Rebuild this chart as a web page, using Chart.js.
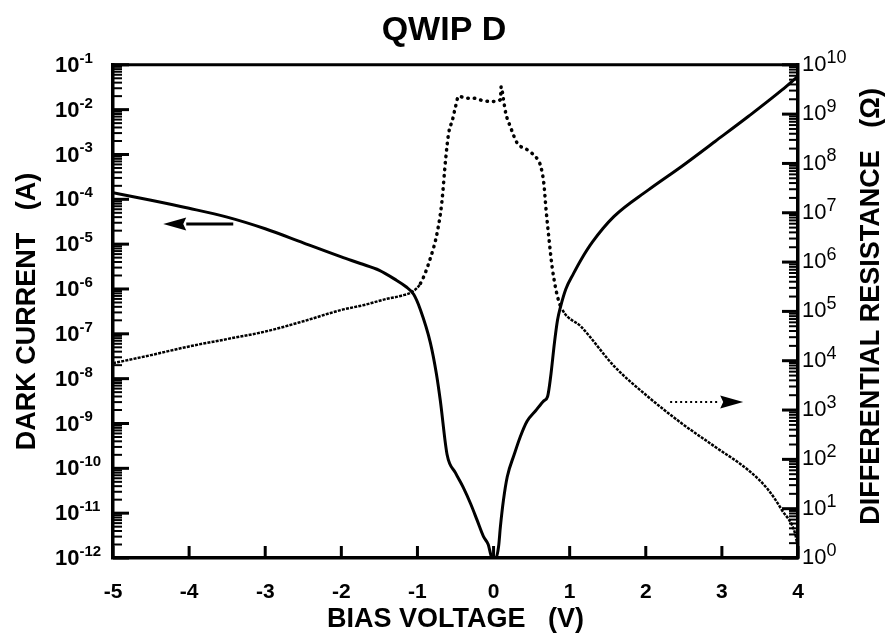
<!DOCTYPE html>
<html>
<head>
<meta charset="utf-8">
<script src="https://cdn.jsdelivr.net/npm/chart.js@4.4.1/dist/chart.umd.min.js"></script>
<style>
html, body { margin: 0; padding: 0; background: #fff; }
#wrap { width: 888px; height: 643px; }
</style>
</head>
<body>
<div id="wrap"><canvas id="myChart" width="888" height="643"></canvas></div>
<script>
// dark current (A) vs bias (V), solid curve, left axis
var biasV = [-5, -4.5, -4, -3.5, -3, -2.5, -2, -1.75, -1.5, -1.3,
    -1.15, -1.05, -0.96, -0.83, -0.75, -0.7, -0.61, -0.5, -0.4, -0.3,
    -0.215, -0.13, -0.07, -0.03, 0, 0.03, 0.066, 0.09, 0.13, 0.18,
    0.27, 0.35, 0.44, 0.55, 0.66, 0.71, 0.75, 0.8, 0.84, 0.88,
    0.95, 1.05, 1.15, 1.3, 1.58, 2.03, 2.47, 2.91, 3.35, 3.79, 4.0];
var darkCurrent = [1.4e-4, 9.5e-5, 6.3e-5, 4.0e-5, 2.2e-5, 1.07e-5, 5.2e-6, 3.7e-6, 2.6e-6, 1.66e-6,
    1.12e-6, 7.6e-7, 3.4e-7, 6.3e-8, 1.26e-8, 3.3e-9, 2.0e-10, 7.9e-11, 3.8e-11, 1.6e-11,
    6.9e-12, 2.95e-12, 2.0e-12, 1.1e-12, 1e-12, 1e-12, 1.8e-12, 5.0e-12, 1.95e-11, 6.5e-11,
    2.0e-10, 5.0e-10, 1.12e-9, 1.9e-9, 3.2e-9, 4.0e-9, 1.1e-8, 6.3e-8, 2.0e-7, 4.0e-7,
    1.0e-6, 2.2e-6, 4.5e-6, 1.12e-5, 4.1e-5, 1.6e-4, 5.4e-4, 1.95e-3, 7.1e-3, 2.75e-2, 5.6e-2];

// differential resistance (ohm) vs bias (V), dotted curve, right axis
var resBias = [-5, -4.5, -4, -3.5, -3, -2.5, -2, -1.7, -1.4, -1.2,
    -1.07, -0.96, -0.83, -0.74, -0.68, -0.63, -0.59, -0.54, -0.5, -0.46,
    -0.35, -0.26, -0.15, -0.04, 0.09, 0.1, 0.13, 0.16, 0.22, 0.31,
    0.44, 0.58, 0.62, 0.66, 0.69, 0.73, 0.77, 0.84, 0.905, 1.15,
    1.59, 2.03, 2.47, 2.91, 3.35, 3.61, 3.79, 3.96, 4.0];
var diffRes = [8.9e3, 1.3e4, 1.95e4, 2.75e4, 3.9e4, 6.3e4, 1.07e5, 1.35e5, 1.8e5, 2.1e5,
    2.5e5, 3.7e5, 1.2e6, 4.0e6, 1.6e7, 1.2e8, 4.1e8, 7.6e8, 1.4e9, 2.3e9,
    2.1e9, 2.1e9, 1.9e9, 1.8e9, 1.95e9, 3.6e9, 2.0e9, 1.05e9, 5.6e8, 2.6e8,
    1.9e8, 1.2e8, 8.7e7, 4.0e7, 1.15e7, 2.8e6, 7.9e5, 2.0e5, 1.07e5, 4.9e4,
    7.6e3, 1.86e3, 5.4e2, 1.8e2, 60, 24, 9.3, 3.2, 1.6];

var xTicks = [-5, -4, -3, -2, -1, 0, 1, 2, 3, 4];
var leftExp = [-12, -11, -10, -9, -8, -7, -6, -5, -4, -3, -2, -1];
var rightExp = [0, 1, 2, 3, 4, 5, 6, 7, 8, 9, 10];

// arrows telling which curve goes with which axis
var arrowCurrent = { from: -3.42, to: -4.34, at: 2.8e-5 };
var arrowRes = { from: 2.32, to: 3.28, at: 1.45e3 };

var FONT = "'Liberation Sans', Arial, Helvetica, sans-serif";
Chart.defaults.font.family = FONT;
Chart.defaults.color = '#000';

function pts(xs, ys) {
    var out = [];
    for (let i = 0; i < xs.length; i++) out.push({ x: xs[i], y: ys[i] });
    return out;
}

function drawPow(ctx, x, y, exp, weight, size, supSize, supRise) {
    ctx.font = weight + ' ' + size + 'px ' + FONT;
    ctx.textAlign = 'left';
    ctx.textBaseline = 'middle';
    ctx.fillText('10', x, y);
    var w = ctx.measureText('10').width;
    ctx.font = weight + ' ' + supSize + 'px ' + FONT;
    ctx.textBaseline = 'alphabetic';
    ctx.fillText(String(exp), x + w, y - supRise);
}

function drawArrow(ctx, xs, ys, a, dotted) {
    var x0 = xs.getPixelForValue(a.from), x1 = xs.getPixelForValue(a.to);
    var y = ys.getPixelForValue(a.at);
    var dir = x1 > x0 ? 1 : -1;
    var head = 23;
    ctx.lineWidth = dotted ? 2 : 3;
    ctx.setLineDash(dotted ? [2, 3] : []);
    ctx.beginPath();
    ctx.moveTo(x0, y);
    ctx.lineTo(x1 - dir * head, y);
    ctx.stroke();
    ctx.setLineDash([]);
    ctx.beginPath();
    ctx.moveTo(x1, y);
    ctx.lineTo(x1 - dir * head, y - 6.5);
    ctx.lineTo(x1 - dir * (head - 3), y);
    ctx.lineTo(x1 - dir * head, y + 6.5);
    ctx.closePath();
    ctx.fill();
}

var decor = {
    id: 'decor',
    afterDraw: function (chart) {
        var ctx = chart.ctx, area = chart.chartArea;
        var xs = chart.scales.x, yl = chart.scales.y, yr = chart.scales.y2;
        ctx.save();
        ctx.strokeStyle = '#000';
        ctx.fillStyle = '#000';
        // top frame
        ctx.lineWidth = 3;
        ctx.beginPath();
        ctx.moveTo(area.left, area.top);
        ctx.lineTo(area.right, area.top);
        ctx.stroke();
        // inward ticks, left and right log axes
        [[yl, leftExp, area.left, 1], [yr, rightExp, area.right, -1]].forEach(function (s) {
            var sc = s[0], ex = s[1], x = s[2], d = s[3];
            for (let i = 0; i < ex.length; i++) {
                var p = sc.getPixelForValue(Math.pow(10, ex[i]));
                ctx.lineWidth = 3;
                ctx.beginPath(); ctx.moveTo(x, p); ctx.lineTo(x + d * 16, p); ctx.stroke();
                if (i == ex.length - 1) continue;
                ctx.lineWidth = 2;
                for (let m = 2; m < 10; m++) {
                    var q = sc.getPixelForValue(m * Math.pow(10, ex[i]));
                    ctx.beginPath(); ctx.moveTo(x, q); ctx.lineTo(x + d * 9, q); ctx.stroke();
                }
            }
        });
        // inward ticks, bottom axis
        ctx.lineWidth = 3;
        for (let i = 0; i < xTicks.length; i++) {
            var px = xs.getPixelForValue(xTicks[i]);
            ctx.beginPath(); ctx.moveTo(px, area.bottom); ctx.lineTo(px, area.bottom - 12); ctx.stroke();
        }
        // tick labels with exponents
        for (let i = 0; i < leftExp.length; i++) {
            drawPow(ctx, 55, yl.getPixelForValue(Math.pow(10, leftExp[i])) + 1, leftExp[i], 'bold', 22, 15, 3);
        }
        for (let i = 0; i < rightExp.length; i++) {
            drawPow(ctx, 802, yr.getPixelForValue(Math.pow(10, rightExp[i])), rightExp[i], 'normal', 22, 18, 2);
        }
        // right axis title, reading bottom to top
        ctx.save();
        ctx.translate(area.right + 74, (area.top + area.bottom) / 2 - 5);
        ctx.rotate(-Math.PI / 2);
        ctx.font = 'bold 27px ' + FONT;
        ctx.textAlign = 'center';
        ctx.textBaseline = 'middle';
        ctx.fillText('DIFFERENTIAL RESISTANCE   (\u03A9)', 0, 0);
        ctx.restore();
        drawArrow(ctx, xs, yl, arrowCurrent, false);
        drawArrow(ctx, xs, yr, arrowRes, true);
        ctx.restore();
    }
};

function inner(c) {
    return c.p0.parsed.x >= -1.0 && c.p0.parsed.x < 0.88;
}

var ctx = document.getElementById('myChart');
var chart = new Chart(ctx, {
    type: 'line',
    data: {
        datasets: [
            {
                label: 'Dark current',
                data: pts(biasV, darkCurrent),
                yAxisID: 'y',
                borderColor: '#000',
                borderWidth: 3,
                pointRadius: 0,
                fill: false,
                cubicInterpolationMode: 'monotone'
            },
            {
                label: 'Differential resistance',
                data: pts(resBias, diffRes),
                yAxisID: 'y2',
                borderColor: '#000',
                borderWidth: 3,
                pointRadius: 0,
                fill: false,
                cubicInterpolationMode: 'monotone',
                segment: {
                    // dots near zero bias, very dense dots on the flanks
                    borderDash: c => inner(c) ? [0.5, 6] : [3, 1.2],
                    borderWidth: c => inner(c) ? 3.5 : 2.5,
                    borderCapStyle: c => inner(c) ? 'round' : 'butt'
                }
            }
        ]
    },
    options: {
        responsive: false,
        animation: false,
        layout: { padding: 0 },
        scales: {
            x: {
                type: 'linear',
                position: 'bottom',
                min: -5,
                max: 4,
                ticks: {
                    stepSize: 1,
                    padding: 14,
                    color: '#000',
                    font: { size: 21, weight: 'bold' },
                    callback: v => String(v)
                },
                grid: { display: false },
                border: { display: true, width: 3.5, color: '#000' },
                title: {
                    display: true,
                    text: 'BIAS VOLTAGE   (V)',
                    color: '#000',
                    font: { size: 27, weight: 'bold' },
                    padding: { top: 0, bottom: 7 }
                },
                afterFit: s => { s.height = 85; }
            },
            y: {
                type: 'logarithmic',
                position: 'left',
                min: 1e-12,
                max: 1e-1,
                ticks: { display: false },
                grid: { display: false },
                border: { display: true, width: 3.5, color: '#000' },
                title: {
                    display: true,
                    text: 'DARK CURRENT   (A)',
                    color: '#000',
                    font: { size: 27, weight: 'bold' },
                    padding: { top: 11, bottom: 0 }
                },
                afterFit: s => { s.width = 113; }
            },
            y2: {
                type: 'logarithmic',
                position: 'right',
                min: 1,
                max: 1e10,
                ticks: { display: false },
                grid: { display: false },
                border: { display: true, width: 3.5, color: '#000' },
                afterFit: s => { s.width = 90; }
            }
        },
        plugins: {
            legend: { display: false },
            tooltip: { enabled: false },
            title: {
                display: true,
                text: 'QWIP D',
                color: '#000',
                font: { size: 34, weight: 'bold' },
                padding: { top: 10, bottom: 14 }
            }
        }
    },
    plugins: [decor]
});
</script>
</body>
</html>
